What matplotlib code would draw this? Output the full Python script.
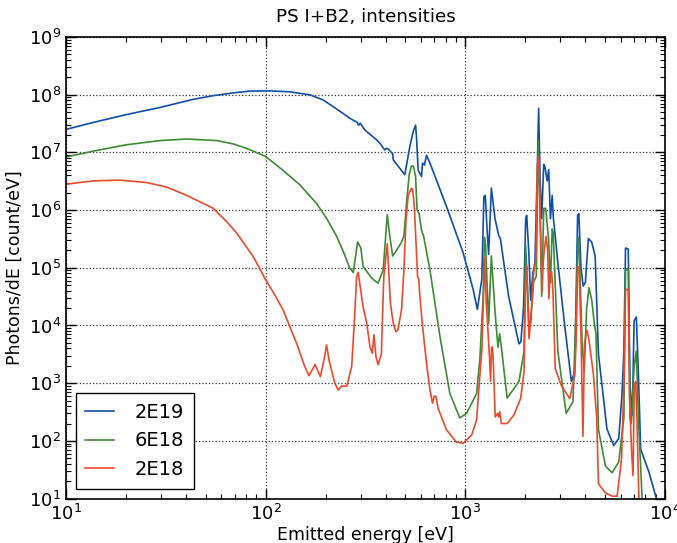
import matplotlib
matplotlib.use('Agg')
import matplotlib.pyplot as plt

# emitted energy [eV] and intensity [count/eV]
e_2e19 = [10, 13.7, 20, 29.6, 43.5, 54.7, 68.6, 83, 100, 105, 132, 167, 194, 218, 245, 264,
          288, 292, 298, 314, 360, 373, 395, 403, 410,
          433, 436, 498, 528, 549, 564, 570, 581, 604, 611, 625, 640, 655, 666, 806, 977, 1096,
          1150, 1211, 1240, 1260, 1290, 1310, 1352, 1410, 1472, 1500, 1650, 1859, 1900, 1960,
          2009, 2032, 2080, 2128, 2180, 2234, 2290, 2333, 2370, 2416, 2474, 2510, 2573, 2620,
          2673, 2728, 2760, 2911, 3150, 3404, 3540, 3657, 3709, 3800, 3900, 4000, 4140, 4300,
          4477, 4650, 5130, 5548, 5877, 6100, 6236, 6357, 6561, 6690, 6877, 7015, 7200, 7375,
          7570, 8350, 9210]
i_2e19 = [2.5e7, 3.3e7, 4.5e7, 6.0e7, 8.3e7, 9.6e7, 1.07e8, 1.15e8, 1.16e8, 1.16e8, 1.12e8,
          9.9e7, 8.1e7, 6.2e7, 4.7e7, 3.9e7, 3.3e7, 2.95e7, 3.2e7,
          2.45e7, 1.64e7, 1.45e7, 1.1e7, 1.17e7, 1.15e7, 9.5e6, 7.4e6, 4.1e6, 1.26e7, 2.3e7,
          2.95e7, 1.86e7, 4.9e6, 3.8e6, 6.5e6, 6.0e6, 8.9e6, 7.4e6, 6.5e6, 1.15e6, 1.8e5, 4.2e4,
          1.9e4, 6.3e4, 1.7e6, 1.8e6, 4.0e5, 1.7e5, 2.4e6, 7.1e5, 3.6e5, 3.2e5, 3.2e4, 4.8e3,
          5.2e3, 2.0e4, 7.1e5, 8.1e5, 2.0e5, 2.75e4, 7.9e4, 1.23e5, 3.2e6, 5.8e7, 4.0e6, 7.1e5,
          6.2e6, 5.6e6, 3.2e6, 5.0e6, 7.1e5, 1.8e6, 7.9e5, 1.23e5, 1.0e4, 1.07e3, 1.6e3, 8.1e5,
          8.7e5, 1.0e5, 4.8e4, 5.6e4, 3.2e5, 2.8e5, 1.6e5, 3.2e3, 160, 83, 110, 630, 3.6e3,
          2.2e5, 2.1e5, 950, 280, 1.2e4, 1.4e4, 1.4e3, 72, 28, 8.3]

e_6e18 = [10, 13.7, 20, 29.6, 40.2, 56.9, 68.7, 80.4, 100, 122, 149, 180, 202, 227, 249, 264,
          275, 289, 300, 308, 340, 366,
          388, 407, 419, 433, 453, 480, 493, 508, 524, 538, 550, 564, 574, 587, 604, 619, 666,
          747, 838, 940, 1015, 1140, 1183, 1230, 1248, 1265, 1310, 1352, 1413, 1459, 1488,
          1520, 1622, 1859, 1972, 2009, 2040, 2089, 2128, 2200, 2270, 2323, 2360, 2416, 2474,
          2530, 2614, 2673, 2728, 2760, 2911, 3205, 3467, 3580, 3680, 3720, 3854, 3945, 4055,
          4168, 4305, 4436, 4520, 4650, 5035, 5445, 5877, 6236, 6357, 6561, 6690, 6800, 7015,
          7200, 7375, 7727]
i_6e18 = [8.3e6, 1.05e7, 1.35e7, 1.6e7, 1.7e7, 1.6e7, 1.4e7, 1.17e7, 8.5e6, 4.9e6, 2.7e6,
          1.3e6, 7.2e5, 3.5e5, 1.66e5, 9.8e4, 8.3e4,
          2.8e5, 2.2e5, 1.05e5, 6.6e4, 5.4e4, 9.1e4, 8.3e5, 3.5e5, 1.6e5, 2.0e5, 2.8e5, 3.5e5,
          1.3e6, 4.1e6, 5.8e6, 5.8e6, 3.8e6, 1.0e6, 8.7e5, 4.5e5, 3.5e5, 9.1e4, 6.5e3, 660, 250,
          300, 660, 2.5e3, 3.2e4, 3.4e5, 2.5e5, 1.07e4, 1.6e5, 1.6e4, 4.2e3, 7.2e3, 4.0e3, 550,
          1.07e3, 3.6e3, 2.4e5, 8e4, 1.1e4, 1.1e4, 5.6e4, 7.1e4, 1.6e7, 2e6, 3.2e4, 1.07e6,
          1.07e6, 3.2e5, 5.5e4, 4.7e5, 4e5, 3.6e3, 300, 480, 1.4e4, 3.4e5, 2.5e5, 4.8e3, 1.6e3,
          1.9e4, 4.5e4, 2.75e4, 1.07e4, 7.2e3, 160, 37, 28, 43, 250, 9.3e4, 9.3e4, 250, 200,
          1.9e3, 3.6e3, 250, 7.2]

e_2e18 = [10, 13.7, 18.6, 25.3, 31.9, 40.2, 48.8, 54.7, 63.8, 71.6, 86.8, 100, 110, 122, 143,
          157, 165, 177, 188,
          196, 202, 208, 222, 231, 240, 255, 270, 278, 286, 291, 300, 308, 321, 333, 342, 349,
          357, 366, 380, 391, 407, 413, 422, 436, 449, 460, 480, 493, 505, 518, 538, 545, 556,
          567, 577, 585, 593, 609, 624, 640, 666, 686, 700, 713, 733, 806, 904, 977, 1077, 1140,
          1183, 1211, 1242, 1253, 1275, 1324, 1340, 1355, 1370, 1386, 1413, 1455, 1470, 1490,
          1517, 1622, 1753, 1897, 1972, 2004, 2032, 2060, 2089, 2128, 2198, 2260, 2296, 2323,
          2355, 2398, 2426, 2460, 2489, 2541, 2590, 2625, 2660, 2710, 2750, 2825, 3030, 3340,
          3540, 3600, 3657, 3720, 3802, 3890, 3960, 4074, 4168, 4385, 4560, 4650, 5035, 5445,
          5770, 6070, 6236, 6357, 6561, 6660, 6820, 6930, 7035, 7150, 7250, 7430]
i_2e18 = [2.8e6, 3.2e6, 3.3e6, 3.0e6, 2.5e6, 1.8e6, 1.3e6, 1.07e6, 6.3e5, 4.0e5, 1.55e5,
          6.2e4, 3.6e4, 1.9e4, 4.9e3,
          1.95e3, 1.35e3, 2.1e3, 1.3e3, 2.5e3, 4.6e3, 2.5e3, 1.0e3, 760, 890, 890, 1.95e3,
          1.1e4, 7.1e4, 8.3e4, 4e4, 2.1e4, 1.1e4, 4.3e3, 3.3e3, 6.9e3, 2.9e3, 2.1e3, 3.2e3,
          7.1e4, 2.6e5, 1e5, 2.4e4, 1.1e4, 7.8e3, 8.3e3, 1.9e4, 9.1e4, 6.8e5, 1.8e6, 2.4e6,
          2.3e6, 1.15e6, 2.6e5, 7.1e4, 6.3e4, 3.2e4, 1.1e4, 4.9e3, 2.2e3, 760, 450, 600, 590,
          360, 155, 95, 91, 126, 230, 1.3e3, 3.6e3, 5.5e4, 1.5e5, 2.5e4, 2.75e3, 1.07e3, 4.2e3,
          4.2e3, 1.9e3, 260, 300, 260, 320, 200, 200, 280, 550, 1.6e3, 5.5e4, 1.07e5, 2e4,
          5.9e3, 1.26e4, 7.6e4, 1.4e5, 5.5e6, 8.5e6, 4e6, 1.9e5, 3.8e4, 1.26e5, 2.0e5, 3.5e5,
          2e5, 2.9e4, 8e4, 8.5e4, 4e4, 1.8e3, 910, 540, 1.4e3, 6.3e3, 1.07e5, 1e5, 7.2e3, 120,
          5e3, 8.3e3, 5.6e3, 1.45e3, 250, 18, 12.6, 11, 11, 49, 950, 4.2e4, 4.2e4, 550, 63, 25,
          950, 1.07e3, 250, 7.2]

labels = ['2E19', '6E18', '2E18']
colors = ['#0f4fa8', '#3e8a35', '#ea4a2e']

fig = plt.figure(figsize=(6.77, 5.43), dpi=100)
ax = fig.add_axes([0.0975, 0.0818, 0.8845, 0.8502])

for e, i, lab, c in zip([e_2e19, e_6e18, e_2e18], [i_2e19, i_6e18, i_2e18], labels, colors):
    ax.plot(e, i, color=c, lw=1.2, label=lab)

ax.set_xscale('log')
ax.set_yscale('log')
ax.set_xlim(10, 1e4)
ax.set_ylim(10, 1e9)
ax.grid(True, which='major', linestyle=':', color='black', lw=0.9, alpha=0.8)
ax.tick_params(which='both', direction='in', top=True, right=True, labelsize=13)
ax.tick_params(which='major', length=7, width=1)
ax.tick_params(which='minor', length=3.5, width=0.8)
for s in ax.spines.values():
    s.set_linewidth(1.2)

ax.set_title('PS I+B2, intensities', fontsize=13.2, pad=11)
ax.set_xlabel('Emitted energy [eV]', fontsize=12.5, labelpad=2)
ax.set_ylabel('Photons/dE [count/eV]', fontsize=12.5)

leg = ax.legend(loc='lower left', fontsize=14, fancybox=False, framealpha=1,
                borderaxespad=0.5, borderpad=0.5, handlelength=1.45, handletextpad=1.1)
leg.get_frame().set_edgecolor('black')
leg.get_frame().set_linewidth(1.0)

fig.savefig('out.png', dpi=100)
